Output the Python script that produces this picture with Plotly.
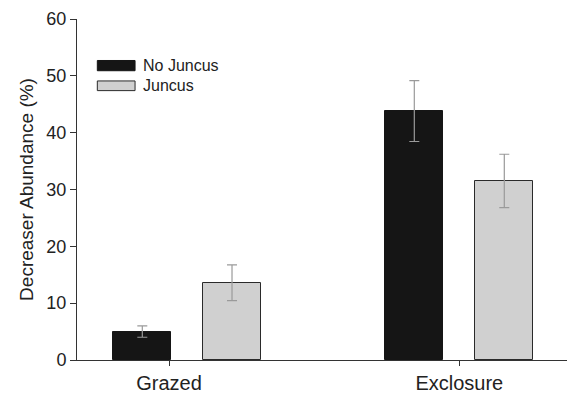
import plotly.graph_objects as go

# Group labels and their positions on the numeric x axis
categories = ["Grazed", "Exclosure"]
category_pos = [1.0, 2.0]

# Bar centres for each treatment within the groups
no_juncus_x = [0.908, 1.845]
juncus_x = [1.217, 2.155]

# Mean decreaser abundance (%) and standard errors
no_juncus = [5.0, 43.8]
no_juncus_err = [1.0, 5.35]
juncus = [13.6, 31.5]
juncus_err = [3.15, 4.7]

series_names = ["No Juncus", "Juncus"]
y_ticks = [0, 10, 20, 30, 40, 50, 60]

FONT = "Liberation Sans, Arial, sans-serif"
AXIS_COL = "#333333"
TEXT_COL = "#222222"

fig = go.Figure()
fig.add_trace(go.Bar(
    x=no_juncus_x, y=no_juncus, width=0.2, name=series_names[0],
    marker=dict(color="#151515", line=dict(color="#151515", width=1)),
    error_y=dict(type="data", array=no_juncus_err, color="#9a9a9a", thickness=1.2, width=5),
))
fig.add_trace(go.Bar(
    x=juncus_x, y=juncus, width=0.2, name=series_names[1],
    marker=dict(color="#d0d0d0", line=dict(color="#2a2a2a", width=1)),
    error_y=dict(type="data", array=juncus_err, color="#9a9a9a", thickness=1.2, width=5),
))

# Legend: wide swatches with labels in the upper-left corner
legend_spec = [
    (series_names[0], 50.9, 52.7, "#151515", "#151515"),
    (series_names[1], 47.4, 49.1, "#d0d0d0", "#2a2a2a"),
]
for name, lo, hi, fill, edge in legend_spec:
    fig.add_shape(type="rect", xref="x", yref="y", x0=0.753, x1=0.883, y0=lo, y1=hi,
                  fillcolor=fill, line=dict(color=edge, width=1))
    fig.add_annotation(x=0.905, y=(lo + hi) / 2, xref="x", yref="y", text=name,
                       showarrow=False, xanchor="left", yanchor="middle",
                       font=dict(family=FONT, size=16, color=TEXT_COL))

fig.update_layout(
    width=567, height=394,
    margin=dict(l=77, r=0, t=19, b=31, pad=0),
    paper_bgcolor="white", plot_bgcolor="white",
    showlegend=False, bargap=0,
    font=dict(family=FONT, size=18, color=TEXT_COL),
)
fig.update_xaxes(
    range=[0.683, 2.371], tickvals=category_pos, ticktext=categories,
    showline=True, linecolor=AXIS_COL, linewidth=1,
    ticks="outside", ticklen=5, tickcolor=AXIS_COL, tickwidth=1,
    showgrid=False, zeroline=False, tickfont=dict(size=20),
)
fig.update_yaxes(
    range=[0, 60], tickvals=y_ticks,
    showline=True, linecolor=AXIS_COL, linewidth=1,
    ticks="outside", ticklen=6, tickcolor=AXIS_COL, tickwidth=1,
    showgrid=False, zeroline=False, tickfont=dict(size=18),
    title=dict(text="Decreaser Abundance (%)", font=dict(size=19), standoff=7),
)

fig.write_html("out.html")
